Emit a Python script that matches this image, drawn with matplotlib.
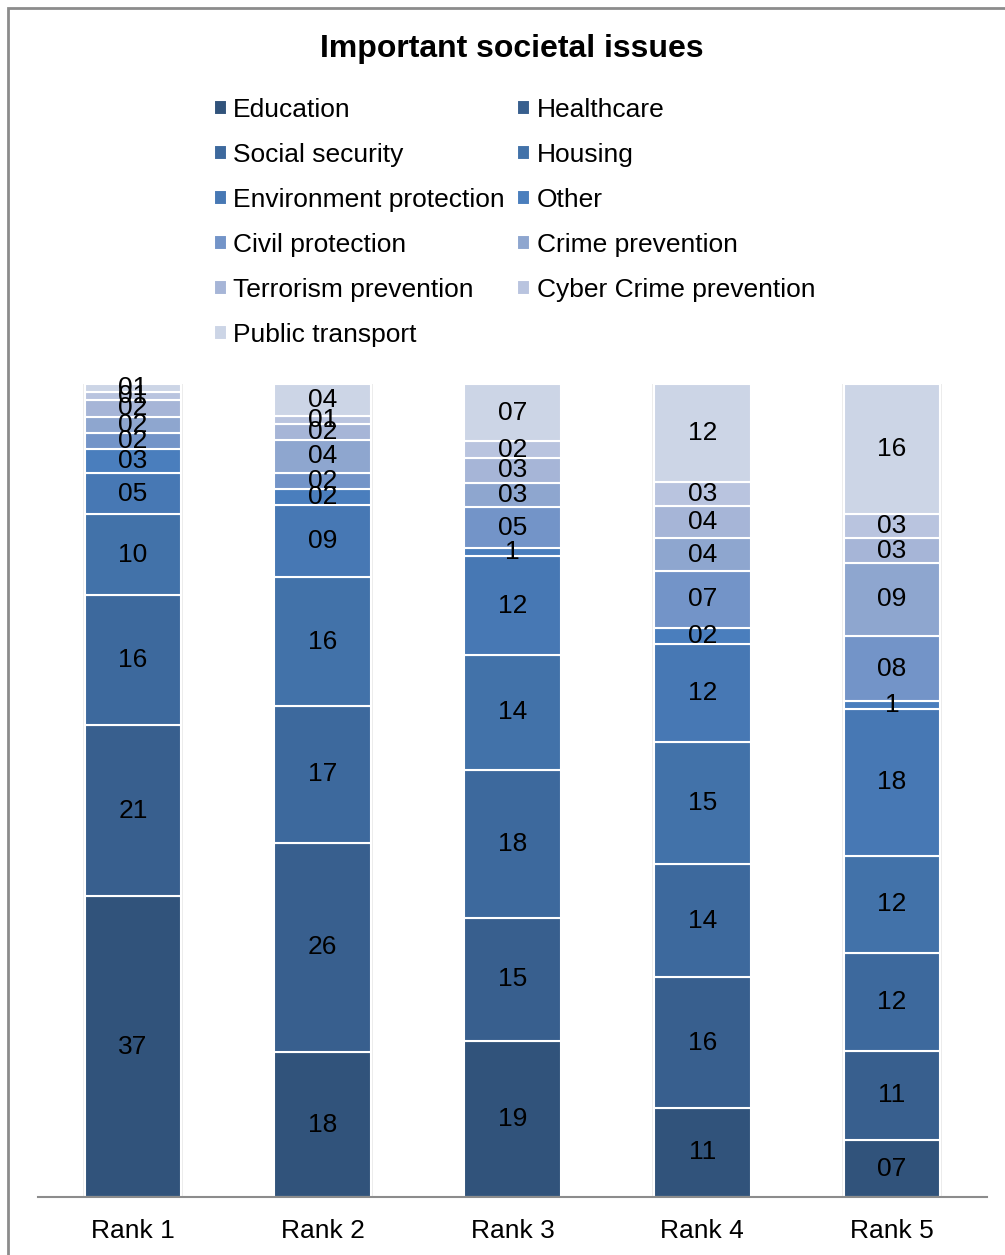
import matplotlib.pyplot as plt
from matplotlib.patches import Rectangle
import numpy as np

plt.rcParams['font.family'] = ['Liberation Sans', 'DejaVu Sans']

ranks = ["Rank 1", "Rank 2", "Rank 3", "Rank 4", "Rank 5"]
issues = ["Education", "Healthcare", "Social security", "Housing",
          "Environment protection", "Other", "Civil protection",
          "Crime prevention", "Terrorism prevention",
          "Cyber Crime prevention", "Public transport"]

# share per rank, bottom segment first
education = [37, 18, 19, 11, 7]
healthcare = [21, 26, 15, 16, 11]
social_security = [16, 17, 18, 14, 12]
housing = [10, 16, 14, 15, 12]
environment = [5, 9, 12, 12, 18]
other = [3, 2, 1, 2, 1]
civil = [2, 2, 5, 7, 8]
crime = [2, 4, 3, 4, 9]
terrorism = [2, 2, 3, 4, 3]
cyber = [1, 1, 2, 3, 3]
public_transport = [1, 4, 7, 12, 16]

# "Other" in rank 3 and rank 5 is printed without a leading zero
plain_labels = {(5, 2), (5, 4)}

series = [education, healthcare, social_security, housing, environment,
          other, civil, crime, terrorism, cyber, public_transport]
colors = ["#31537B", "#385F8E", "#3D699D", "#4272A9", "#4778B4", "#4A7EBD",
          "#7394C8", "#8EA6CF", "#A6B5D7", "#B9C4DF", "#CCD5E6"]

FS = 19

fig = plt.figure(figsize=(10.05, 12.55), dpi=100)
ax = fig.add_axes([38 / 1005, 58 / 1255, 949 / 1005, 813 / 1255])

data = np.array(series, dtype=float)
totals = data.sum(axis=0)
pct = data / totals * 100

x = np.arange(len(ranks))
bottom = np.zeros(len(ranks))
handles = []
for i, (name, col) in enumerate(zip(issues, colors)):
    # soft shadow behind each column
    if i == 0:
        for xi in x:
            ax.add_patch(Rectangle((xi - 0.255 - 0.008, 0), 0.526, 100,
                                   facecolor="#ececec", edgecolor="none",
                                   zorder=1))
    bars = ax.bar(x, pct[i], 0.51, bottom=bottom, color=col,
                  edgecolor="white", linewidth=1.5, label=name, zorder=2)
    handles.append(bars)
    for j in range(len(ranks)):
        v = series[i][j]
        txt = str(v) if (i, j) in plain_labels else f"{v:02d}"
        ax.text(x[j], bottom[j] + pct[i][j] / 2, txt, ha="center",
                va="center", fontsize=FS, color="black", zorder=3)
    bottom += pct[i]

ax.set_xlim(-0.5, len(ranks) - 0.5)
ax.set_ylim(0, 100)
ax.set_yticks([])
ax.set_xticks(x)
ax.set_xticklabels(ranks, fontsize=FS)
ax.tick_params(axis="x", length=0, pad=16)
for s in ["top", "right", "left"]:
    ax.spines[s].set_visible(False)
ax.spines["bottom"].set_color("#8c8c8c")
ax.spines["bottom"].set_linewidth(1.5)

# legend reads across rows, matplotlib fills down columns
order = [0, 2, 4, 6, 8, 10, 1, 3, 5, 7, 9]
fig.legend([handles[k] for k in order], [issues[k] for k in order],
           ncol=2, loc="upper left", bbox_to_anchor=(203 / 1005, 1 - 87 / 1255),
           frameon=False, fontsize=FS, handlelength=0.5, handleheight=0.5,
           handletextpad=0.25, columnspacing=0.45, labelspacing=0.8,
           borderaxespad=0)

fig.text(512 / 1005, 1 - 49 / 1255, "Important societal issues",
         ha="center", va="center", fontsize=23, fontweight="bold")

fig.patches.append(Rectangle((8 / 1005, -0.01), 1.05, 1 - 8 / 1255 + 0.01,
                             transform=fig.transFigure, fill=False,
                             edgecolor="#8c8c8c", linewidth=2))

fig.savefig("out.png", dpi=100)
